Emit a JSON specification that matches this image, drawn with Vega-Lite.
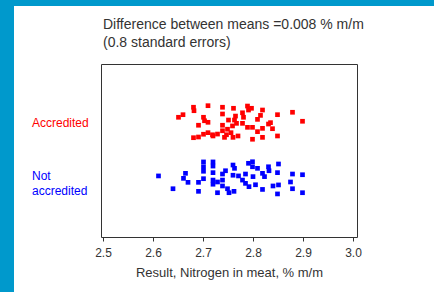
{
  "$schema": "https://vega.github.io/schema/vega-lite/v6.json",
  "autosize": {"type": "none"},
  "width": 256,
  "height": 173,
  "padding": {"left": 101, "top": 64, "right": 77, "bottom": 55},
  "background": "white",
  "config": {
    "font": "Liberation Sans",
    "view": {"stroke": "#333333", "strokeWidth": 1}
  },
  "encoding": {
    "x": {
      "field": "result",
      "type": "quantitative",
      "scale": {"domain": [2.496, 3.008], "nice": false, "zero": false},
      "axis": {
        "title": "Result, Nitrogen in meat, % m/m",
        "values": [2.5, 2.6, 2.7, 2.8, 2.9, 3.0],
        "format": ".1f",
        "grid": false,
        "domain": false,
        "tickColor": "#333333",
        "tickSize": 4,
        "labelFontSize": 12,
        "labelColor": "#333333",
        "labelPadding": 6,
        "titleFontSize": 13,
        "titleFontWeight": "normal",
        "titleColor": "#333333",
        "titlePadding": 8
      }
    },
    "y": {
      "field": "y",
      "type": "quantitative",
      "scale": {"domain": [0, 10], "nice": false, "zero": false},
      "axis": null
    }
  },
  "layer": [
    {
      "data": {"values": [
        {"result": 2.28, "result2": 3.2, "y": 13.35, "y2": 14.5},
        {"result": 2.28, "result2": 2.322, "y": -4, "y2": 14.5}
      ]},
      "mark": {"type": "rect", "fill": "#0099cc"},
      "encoding": {
        "x2": {"field": "result2"},
        "y2": {"field": "y2"}
      }
    },
    {
      "data": {"values": [
        {"text": "Difference between means =0.008 % m/m", "result": 2.5, "y": 12.25},
        {"text": "(0.8 standard errors)", "result": 2.5, "y": 11.21}
      ]},
      "mark": {"type": "text", "align": "left", "baseline": "middle", "fontSize": 14, "color": "#333333"},
      "encoding": {
        "text": {"field": "text"}
      }
    },
    {
      "data": {"values": [
      {"group": "Accredited", "result": 2.651, "y": 6.92},
      {"group": "Accredited", "result": 2.660, "y": 7.07},
      {"group": "Accredited", "result": 2.681, "y": 7.50},
      {"group": "Accredited", "result": 2.682, "y": 7.30},
      {"group": "Accredited", "result": 2.710, "y": 7.59},
      {"group": "Accredited", "result": 2.701, "y": 6.92},
      {"group": "Accredited", "result": 2.703, "y": 6.72},
      {"group": "Accredited", "result": 2.710, "y": 6.63},
      {"group": "Accredited", "result": 2.691, "y": 6.46},
      {"group": "Accredited", "result": 2.739, "y": 7.50},
      {"group": "Accredited", "result": 2.739, "y": 7.11},
      {"group": "Accredited", "result": 2.761, "y": 7.44},
      {"group": "Accredited", "result": 2.751, "y": 6.76},
      {"group": "Accredited", "result": 2.765, "y": 6.99},
      {"group": "Accredited", "result": 2.763, "y": 6.76},
      {"group": "Accredited", "result": 2.767, "y": 6.57},
      {"group": "Accredited", "result": 2.759, "y": 6.42},
      {"group": "Accredited", "result": 2.739, "y": 6.46},
      {"group": "Accredited", "result": 2.739, "y": 6.14},
      {"group": "Accredited", "result": 2.749, "y": 6.23},
      {"group": "Accredited", "result": 2.756, "y": 6.03},
      {"group": "Accredited", "result": 2.779, "y": 7.18},
      {"group": "Accredited", "result": 2.781, "y": 6.92},
      {"group": "Accredited", "result": 2.789, "y": 7.57},
      {"group": "Accredited", "result": 2.797, "y": 7.44},
      {"group": "Accredited", "result": 2.791, "y": 7.34},
      {"group": "Accredited", "result": 2.819, "y": 7.34},
      {"group": "Accredited", "result": 2.815, "y": 7.03},
      {"group": "Accredited", "result": 2.809, "y": 6.80},
      {"group": "Accredited", "result": 2.779, "y": 6.57},
      {"group": "Accredited", "result": 2.789, "y": 6.34},
      {"group": "Accredited", "result": 2.799, "y": 6.34},
      {"group": "Accredited", "result": 2.809, "y": 6.09},
      {"group": "Accredited", "result": 2.819, "y": 6.28},
      {"group": "Accredited", "result": 2.831, "y": 6.53},
      {"group": "Accredited", "result": 2.835, "y": 6.61},
      {"group": "Accredited", "result": 2.839, "y": 6.26},
      {"group": "Accredited", "result": 2.849, "y": 7.07},
      {"group": "Accredited", "result": 2.879, "y": 7.21},
      {"group": "Accredited", "result": 2.899, "y": 6.69},
      {"group": "Accredited", "result": 2.849, "y": 5.84},
      {"group": "Accredited", "result": 2.819, "y": 5.76},
      {"group": "Accredited", "result": 2.799, "y": 5.65},
      {"group": "Accredited", "result": 2.681, "y": 5.74},
      {"group": "Accredited", "result": 2.691, "y": 5.78},
      {"group": "Accredited", "result": 2.701, "y": 5.94},
      {"group": "Accredited", "result": 2.710, "y": 6.03},
      {"group": "Accredited", "result": 2.719, "y": 5.91},
      {"group": "Accredited", "result": 2.729, "y": 5.95},
      {"group": "Accredited", "result": 2.743, "y": 5.76},
      {"group": "Accredited", "result": 2.760, "y": 5.76},
      {"group": "Accredited", "result": 2.770, "y": 5.84},
      {"group": "Accredited", "result": 2.747, "y": 5.91},
      {"group": "Accredited", "result": 2.720, "y": 5.84},
      {"group": "Not accredited", "result": 2.611, "y": 3.53},
      {"group": "Not accredited", "result": 2.640, "y": 2.79},
      {"group": "Not accredited", "result": 2.665, "y": 3.68},
      {"group": "Not accredited", "result": 2.661, "y": 3.39},
      {"group": "Not accredited", "result": 2.670, "y": 3.16},
      {"group": "Not accredited", "result": 2.691, "y": 3.16},
      {"group": "Not accredited", "result": 2.691, "y": 2.64},
      {"group": "Not accredited", "result": 2.701, "y": 4.34},
      {"group": "Not accredited", "result": 2.701, "y": 4.06},
      {"group": "Not accredited", "result": 2.701, "y": 3.80},
      {"group": "Not accredited", "result": 2.701, "y": 3.37},
      {"group": "Not accredited", "result": 2.720, "y": 4.34},
      {"group": "Not accredited", "result": 2.720, "y": 4.10},
      {"group": "Not accredited", "result": 2.720, "y": 3.72},
      {"group": "Not accredited", "result": 2.720, "y": 3.29},
      {"group": "Not accredited", "result": 2.720, "y": 3.05},
      {"group": "Not accredited", "result": 2.729, "y": 3.18},
      {"group": "Not accredited", "result": 2.729, "y": 2.56},
      {"group": "Not accredited", "result": 2.739, "y": 3.64},
      {"group": "Not accredited", "result": 2.739, "y": 2.95},
      {"group": "Not accredited", "result": 2.745, "y": 3.83},
      {"group": "Not accredited", "result": 2.760, "y": 4.16},
      {"group": "Not accredited", "result": 2.763, "y": 3.97},
      {"group": "Not accredited", "result": 2.760, "y": 3.57},
      {"group": "Not accredited", "result": 2.771, "y": 3.53},
      {"group": "Not accredited", "result": 2.749, "y": 2.79},
      {"group": "Not accredited", "result": 2.752, "y": 2.56},
      {"group": "Not accredited", "result": 2.762, "y": 2.64},
      {"group": "Not accredited", "result": 2.779, "y": 3.29},
      {"group": "Not accredited", "result": 2.785, "y": 3.10},
      {"group": "Not accredited", "result": 2.791, "y": 4.26},
      {"group": "Not accredited", "result": 2.799, "y": 4.35},
      {"group": "Not accredited", "result": 2.799, "y": 4.06},
      {"group": "Not accredited", "result": 2.809, "y": 3.97},
      {"group": "Not accredited", "result": 2.800, "y": 3.49},
      {"group": "Not accredited", "result": 2.805, "y": 3.02},
      {"group": "Not accredited", "result": 2.792, "y": 2.91},
      {"group": "Not accredited", "result": 2.819, "y": 3.68},
      {"group": "Not accredited", "result": 2.823, "y": 3.49},
      {"group": "Not accredited", "result": 2.831, "y": 4.06},
      {"group": "Not accredited", "result": 2.832, "y": 3.83},
      {"group": "Not accredited", "result": 2.819, "y": 2.75},
      {"group": "Not accredited", "result": 2.840, "y": 2.95},
      {"group": "Not accredited", "result": 2.851, "y": 3.01},
      {"group": "Not accredited", "result": 2.851, "y": 4.22},
      {"group": "Not accredited", "result": 2.849, "y": 3.72},
      {"group": "Not accredited", "result": 2.849, "y": 2.49},
      {"group": "Not accredited", "result": 2.875, "y": 3.18},
      {"group": "Not accredited", "result": 2.879, "y": 3.64},
      {"group": "Not accredited", "result": 2.879, "y": 2.79},
      {"group": "Not accredited", "result": 2.899, "y": 3.60},
      {"group": "Not accredited", "result": 2.899, "y": 2.56},
      {"group": "Not accredited", "result": 2.739, "y": 3.29},
      {"group": "Not accredited", "result": 2.785, "y": 3.64}
      ]},
      "mark": {"type": "square", "size": 22, "opacity": 1, "filled": true},
      "encoding": {
        "color": {
          "field": "group",
          "type": "nominal",
          "scale": {"domain": ["Accredited", "Not accredited"], "range": ["#ff0000", "#0000ff"]},
          "legend": null
        }
      }
    },
    {
      "data": {"values": [
        {"group": "Accredited", "label": "Accredited", "result": 2.358, "y": 6.59},
        {"group": "Not accredited", "label": "Not\naccredited", "result": 2.358, "y": 3.55}
      ]},
      "mark": {"type": "text", "align": "left", "baseline": "middle", "fontSize": 12, "lineBreak": "\n", "lineHeight": 15},
      "encoding": {
        "text": {"field": "label"},
        "color": {"field": "group", "type": "nominal", "legend": null}
      }
    }
  ]
}
